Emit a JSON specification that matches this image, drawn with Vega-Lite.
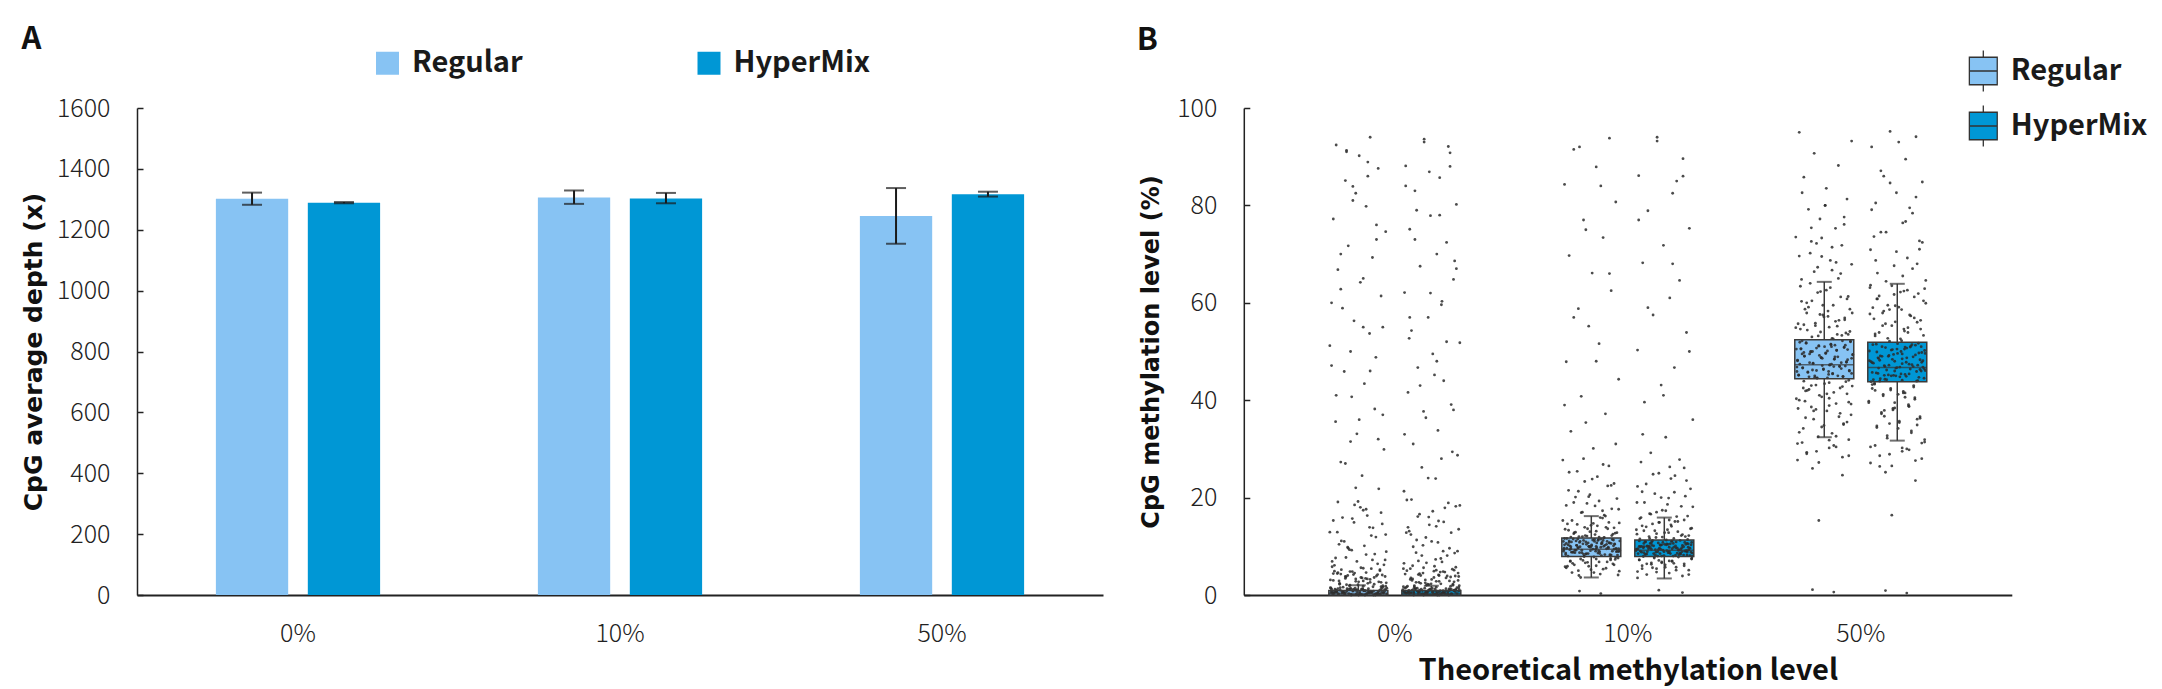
{
"$schema": "https://vega.github.io/schema/vega-lite/v6.json",
"background": "white",
"padding": {"left": 21, "top": 23, "right": 10, "bottom": 5},
"bounds": "flush",
"spacing": 140.8,
"config": {
 "view": {"stroke": null},
 "font": "Noto Sans CJK SC",
 "axis": {"grid": false, "domainColor": "#222", "tickColor": "#222", "labelFont": "Noto Sans CJK SC", "labelFontSize": 25, "labelFontWeight": 300, "labelColor": "#222", "titleColor": "#111"},
 "axisY": {"domainWidth": 1.5, "tickSize": -6, "tickWidth": 1.5, "labelPadding": 33, "titleFont": "DejaVu Sans", "titleFontWeight": "bold", "titleFontSize": 24, "titlePadding": 10, "format": "d"},
 "axisX": {"domainWidth": 2, "ticks": false, "labelPadding": 26, "labelAngle": 0, "titleFont": "Noto Sans CJK SC", "titleFontWeight": "bold", "titleFontSize": 29, "titlePadding": 10},
 "title": {"font": "Noto Sans CJK SC", "fontSize": 31, "fontWeight": "bold", "anchor": "start", "frame": "bounds", "color": "#111", "dy": 11},
 "legend": {"title": null, "labelFont": "Noto Sans CJK SC", "labelFontSize": 29, "labelFontWeight": "bold", "labelColor": "#1a1a1a", "padding": 0}
},
"datasets": {
 "bars": [
  {"t": "0%", "g": "Regular", "mean": 1302, "lo": 1282, "hi": 1322},
  {"t": "0%", "g": "HyperMix", "mean": 1289, "lo": 1287, "hi": 1291},
  {"t": "10%", "g": "Regular", "mean": 1306, "lo": 1285, "hi": 1329},
  {"t": "10%", "g": "HyperMix", "mean": 1303, "lo": 1287, "hi": 1321},
  {"t": "50%", "g": "Regular", "mean": 1245, "lo": 1154, "hi": 1337},
  {"t": "50%", "g": "HyperMix", "mean": 1317, "lo": 1309, "hi": 1325}
 ],
 "boxes": [
  {"t": "0%", "g": "Regular", "lo": 0, "q1": 0, "med": 0.3, "q3": 0.9, "hi": 2.0},
  {"t": "0%", "g": "HyperMix", "lo": 0, "q1": 0, "med": 0.3, "q3": 0.9, "hi": 1.9},
  {"t": "10%", "g": "Regular", "lo": 3.6, "q1": 7.9, "med": 9.4, "q3": 11.7, "hi": 16.2},
  {"t": "10%", "g": "HyperMix", "lo": 3.4, "q1": 7.9, "med": 9.2, "q3": 11.3, "hi": 15.9},
  {"t": "50%", "g": "Regular", "lo": 32.4, "q1": 44.4, "med": 47.3, "q3": 52.4, "hi": 64.3},
  {"t": "50%", "g": "HyperMix", "lo": 31.7, "q1": 43.8, "med": 46.7, "q3": 51.9, "hi": 63.9}
 ],
 "pts": [
  {"t": "0%", "g": "Regular",
   "v": [0.1,0.3,0.5,0.2,0.8,0.4,1.1,0.6,0.0,0.9,1.3,0.2,0.7,0.5,1.0,0.3,1.4,0.6,0.1,0.8,1.2,0.4,0.9,0.0,1.5,0.7,0.3,1.1,0.5,0.2,1.0,0.6,1.3,0.4,0.8,0.1,1.2,0.9,0.5,0.7,2.1,3.4,1.8,4.6,2.7,3.9,1.6,2.4,4.2,3.1,1.9,2.9,4.8,3.6,2.2,1.7,3.3,4.4,2.6,3.8,5.6,7.2,9.8,6.4,12.9,8.3,15.7,5.2,11.1,17.4,6.9,13.8,19.2,8.9,10.4,16.3,7.7,14.6,18.5,6.1,12.2,9.3,21.8,24.5,27.3,29.9,33.1,35.6,38.2,40.7,43.4,45.9,48.8,51.2,53.7,56.3,58.9,61.4,64.2,66.8,69.3,71.7,74.6,77.2,79.8,82.5,85.1,87.6,90.2,92.4,94.0,31.5,37.0,47.1,55.0,62.8,73.0,83.9,88.9,91.3],
   "j": [37,82,5,64,21,93,48,12,76,59,30,88,3,67,44,15,99,52,26,71,9,84,40,61,18,95,33,57,2,79,46,24,90,68,11,55,36,86,7,73,29,62,97,14,50,81,23,66,41,1,92,58,35,77,17,89,45,6,70,27,54,96,31,83,13,63,39,87,20,58,4,75,49,98,16,65,28,91,43,8,72,34,85,56,19,94,47,10,78,38,60,25,80,0,69,42,22,89,53,14,74,32,97,6,63,45,27,84,51,11,70,36,92,3,58,19,81,40,66,29]},
  {"t": "0%", "g": "Regular",
   "v": [0.0,0.1,0.2,0.3,0.4,0.5,0.6,0.7,0.8,0.9,1.0,1.1,1.2,1.3,1.4,0.1,0.2,0.3,0.4,0.5,0.6,0.7,0.8,0.9,1.0,1.1,1.2,1.3,1.4,0.0,0.2,0.4,0.6,0.8,1.0,1.2,1.4,0.1,0.3,0.5,0.7,0.9,1.1,1.3,0.0,0.3,0.6,0.9,1.2,1.5,1.6,1.8,2.0,2.2,2.4,2.6,2.8,3.0,3.2,3.4,3.6,3.8,4.0,4.2,4.4,4.6,4.8,5.0,5.2,5.5,5.8,1.7,2.1,2.5,2.9,3.3,3.7,4.1,4.5,4.9,5.4,1.9,2.7,3.5,4.3,6.2,6.9,7.6,8.4,9.2,10.1,11.0,11.9,12.9,13.9,14.9,15.9,16.9,18.0,19.1,7.2,9.6,12.4,15.3,17.6,22,27,32,36,41,46,50,55,60,65,70,76,81,86,91],
   "j": [37,82,5,64,21,93,48,12,76,59,30,88,3,67,44,15,99,52,26,71,9,84,40,61,18,95,33,57,2,79,46,24,90,68,11,55,36,86,7,73,29,62,97,14,50,81,23,66,41,1,92,58,35,77,17,89,45,6,70,27,54,96,31,83,13,63,39,87,20,58,4,75,49,98,16,65,28,91,43,8,72,34,85,56,19,94,47,10,78,38,60,25,80,0,69,42,22,89,53,14,74,32,97,6,63,45,27,84,51,11,70,36,92,3,58,19,81,40,66,29]},
  {"t": "0%", "g": "HyperMix",
   "v": [93.6,90.8,88.1,85.7,83.0,80.2,77.9,75.1,72.4,70.0,67.5,64.8,62.1,59.6,57.0,54.3,51.8,49.5,46.7,44.0,41.6,39.1,36.4,33.8,31.0,28.7,26.2,23.9,21.3,92.1,86.9,79.0,68.6,60.3,52.7,45.2,37.7,29.4,19.5,17.9,16.6,15.2,13.5,12.4,11.0,9.6,8.7,7.5,6.6,5.4,18.2,14.1,10.2,8.1,6.0,5.1,16.0,12.8,9.0,7.0,4.9,4.5,4.0,3.7,3.2,2.8,2.5,2.0,1.7,1.6,4.3,3.5,2.3,1.9,3.0,4.7,2.6,3.9,2.2,1.8,0.4,0.9,0.1,1.2,0.6,0.3,1.0,0.7,0.2,1.4,0.5,0.8,0.0,1.1,0.3,0.6,1.3,0.9,0.2,0.5,0.8,0.1,1.5,0.4,0.7,1.0,0.2,1.2,0.6,0.3,0.9,0.0,1.1,0.5,0.8,0.4,1.3,0.7,0.2,1.0],
   "j": [37,82,5,64,21,93,48,12,76,59,30,88,3,67,44,15,99,52,26,71,9,84,40,61,18,95,33,57,2,79,46,24,90,68,11,55,36,86,7,73,29,62,97,14,50,81,23,66,41,1,92,58,35,77,17,89,45,6,70,27,54,96,31,83,13,63,39,87,20,58,4,75,49,98,16,65,28,91,43,8,72,34,85,56,19,94,47,10,78,38,60,25,80,0,69,42,22,89,53,14,74,32,97,6,63,45,27,84,51,11,70,36,92,3,58,19,81,40,66,29]},
  {"t": "0%", "g": "HyperMix",
   "v": [93,88,84,78,73,67,62,57,52,48,43,38,33,28,24,19.6,18.4,17.2,16.1,15.0,13.9,12.8,11.8,10.8,9.9,9.0,8.1,7.3,6.5,18.9,14.4,11.3,8.6,6.8,13.1,5.9,5.6,5.3,5.0,4.7,4.4,4.1,3.8,3.5,3.2,2.9,2.6,2.3,2.0,1.7,5.7,5.1,4.5,3.9,3.3,2.7,2.1,1.6,4.8,4.2,3.6,3.0,2.4,1.8,5.4,4.0,3.1,2.2,1.9,2.8,1.4,1.3,1.2,1.1,1.0,0.9,0.8,0.7,0.6,0.5,0.4,0.3,0.2,0.1,0.0,1.5,1.2,0.9,0.6,0.3,0.0,1.4,1.1,0.8,0.5,0.2,1.3,1.0,0.7,0.4,0.1,1.2,0.8,0.4,0.0,1.0,0.6,0.2,1.4,0.9,0.5,0.1,1.1,0.7,0.3,1.3,0.9,0.5,0.2,0.6],
   "j": [37,82,5,64,21,93,48,12,76,59,30,88,3,67,44,15,99,52,26,71,9,84,40,61,18,95,33,57,2,79,46,24,90,68,11,55,36,86,7,73,29,62,97,14,50,81,23,66,41,1,92,58,35,77,17,89,45,6,70,27,54,96,31,83,13,63,39,87,20,58,4,75,49,98,16,65,28,91,43,8,72,34,85,56,19,94,47,10,78,38,60,25,80,0,69,42,22,89,53,14,74,32,97,6,63,45,27,84,51,11,70,36,92,3,58,19,81,40,66,29]},
  {"t": "10%", "g": "Regular",
   "v": [8.0,8.3,8.6,8.9,9.2,9.5,9.8,10.1,10.4,10.7,11.0,11.3,11.6,8.1,8.5,8.8,9.1,9.4,9.7,10.0,10.3,10.6,10.9,11.2,11.5,8.2,8.7,9.0,9.3,9.6,9.9,10.2,10.5,10.8,11.1,11.4,8.4,9.0,9.6,10.2,10.8,11.4,8.9,9.5,10.1,10.7,9.2,9.8,10.4,11.0,7.7,7.4,7.1,6.8,6.5,6.2,5.9,5.6,5.3,5.0,4.6,4.1,3.6,7.5,6.9,11.9,12.2,12.5,12.8,13.1,13.5,13.9,14.3,14.8,15.3,15.9,12.0,12.7,13.6,14.6,16.4,17.0,17.7,18.3,19.0,19.8,20.6,21.5,22.4,23.3,24.3,25.4,26.5,27.7,17.3,18.8,20.1,22.9,30.1,33.6,37.2,40.8,44.3,47.9,51.6,55.2,58.8,62.5,66.1,69.7,73.4,77.0,80.7,84.3,87.9,91.5,93.8,35.4,0.3,0.8],
   "j": [37,82,5,64,21,93,48,12,76,59,30,88,3,67,44,15,99,52,26,71,9,84,40,61,18,95,33,57,2,79,46,24,90,68,11,55,36,86,7,73,29,62,97,14,50,81,23,66,41,1,92,58,35,77,17,89,45,6,70,27,54,96,31,83,13,63,39,87,20,58,4,75,49,98,16,65,28,91,43,8,72,34,85,56,19,94,47,10,78,38,60,25,80,0,69,42,22,89,53,14,74,32,97,6,63,45,27,84,51,11,70,36,92,3,58,19,81,40,66,29]},
  {"t": "10%", "g": "Regular",
   "v": [7.9,8.1,8.3,8.5,8.7,8.9,9.1,9.3,9.5,9.7,9.9,10.1,10.3,10.5,10.7,10.9,11.1,11.3,11.5,11.7,8.0,8.2,8.4,8.6,8.8,9.0,9.2,9.4,9.6,9.8,10.0,10.2,10.4,10.6,10.8,11.0,11.2,11.4,11.6,8.3,8.7,9.1,9.5,9.9,10.3,10.7,11.1,11.5,8.5,9.0,9.5,10.0,10.5,11.0,8.8,9.4,10.0,10.6,11.2,9.7,7.8,7.6,7.4,7.2,7.0,6.8,6.6,6.4,6.2,6.0,5.8,5.5,5.2,4.9,4.6,4.3,4.0,7.3,6.7,5.9,11.8,12.0,12.2,12.4,12.6,12.8,13.0,13.3,13.6,13.9,14.2,14.5,14.9,15.3,15.8,12.1,12.9,13.8,14.7,11.9,16.2,16.9,17.6,18.4,19.3,20.2,21.3,22.5,23.8,25.2,26.8,28.0,31,39,48,57,66,75,84,92],
   "j": [37,82,5,64,21,93,48,12,76,59,30,88,3,67,44,15,99,52,26,71,9,84,40,61,18,95,33,57,2,79,46,24,90,68,11,55,36,86,7,73,29,62,97,14,50,81,23,66,41,1,92,58,35,77,17,89,45,6,70,27,54,96,31,83,13,63,39,87,20,58,4,75,49,98,16,65,28,91,43,8,72,34,85,56,19,94,47,10,78,38,60,25,80,0,69,42,22,89,53,14,74,32,97,6,63,45,27,84,51,11,70,36,92,3,58,19,81,40,66,29]},
  {"t": "10%", "g": "HyperMix",
   "v": [93.2,89.6,86.1,82.5,78.9,75.3,71.8,68.2,64.6,61.0,57.5,53.9,50.3,46.7,43.1,39.6,36.0,32.4,29.2,85.0,27.3,26.1,25.0,23.9,22.8,21.8,20.8,19.9,19.0,18.2,17.4,16.7,16.2,24.5,21.2,18.6,17.0,20.3,15.7,15.1,14.6,14.1,13.7,13.2,12.8,12.4,12.0,11.6,14.9,13.4,12.2,15.4,11.8,11.2,10.9,10.6,10.3,10.0,9.7,9.4,9.1,8.8,8.5,8.2,7.9,11.1,10.7,10.4,10.1,9.8,9.5,9.2,8.9,8.6,8.3,8.0,11.0,10.5,10.2,9.9,9.6,9.3,9.0,8.7,8.4,8.1,10.8,10.0,9.4,8.9,8.5,10.6,9.7,9.1,8.2,10.3,9.5,8.8,11.3,9.9,9.2,7.8,7.5,7.2,6.9,6.6,6.3,6.0,5.7,5.4,5.1,4.7,4.2,3.5,7.0,6.4,0.5,1.0],
   "j": [37,82,5,64,21,93,48,12,76,59,30,88,3,67,44,15,99,52,26,71,9,84,40,61,18,95,33,57,2,79,46,24,90,68,11,55,36,86,7,73,29,62,97,14,50,81,23,66,41,1,92,58,35,77,17,89,45,6,70,27,54,96,31,83,13,63,39,87,20,58,4,75,49,98,16,65,28,91,43,8,72,34,85,56,19,94,47,10,78,38,60,25,80,0,69,42,22,89,53,14,74,32,97,6,63,45,27,84,51,11,70,36,92,3,58,19,81,40,66,29]},
  {"t": "10%", "g": "HyperMix",
   "v": [94,86,77,68,59,50,41,33,27.8,26.3,24.8,23.5,22.3,21.1,20.0,19.0,18.1,17.3,16.6,16.1,15.9,15.4,14.9,14.4,14.0,13.6,13.2,12.8,12.5,12.2,11.9,11.6,11.4,15.1,14.2,13.4,12.6,12.0,11.5,13.0,11.2,11.0,10.8,10.6,10.4,10.2,10.0,9.8,9.6,9.4,9.2,9.0,8.8,8.6,8.4,8.2,8.0,11.1,10.9,10.7,10.5,10.3,10.1,9.9,9.7,9.5,9.3,9.1,8.9,8.7,8.5,8.3,8.1,7.9,11.0,10.6,10.2,9.8,9.4,9.0,8.6,8.2,10.8,10.4,10.0,9.6,9.2,8.8,8.4,8.0,10.5,9.7,8.9,9.3,10.1,8.5,9.9,9.1,10.3,8.7,7.8,7.6,7.4,7.2,7.0,6.8,6.6,6.4,6.2,6.0,5.7,5.4,5.1,4.8,4.5,4.2,3.9,7.1,6.5,5.6],
   "j": [37,82,5,64,21,93,48,12,76,59,30,88,3,67,44,15,99,52,26,71,9,84,40,61,18,95,33,57,2,79,46,24,90,68,11,55,36,86,7,73,29,62,97,14,50,81,23,66,41,1,92,58,35,77,17,89,45,6,70,27,54,96,31,83,13,63,39,87,20,58,4,75,49,98,16,65,28,91,43,8,72,34,85,56,19,94,47,10,78,38,60,25,80,0,69,42,22,89,53,14,74,32,97,6,63,45,27,84,51,11,70,36,92,3,58,19,81,40,66,29]},
  {"t": "50%", "g": "Regular",
   "v": [44.5,44.8,45.1,45.4,45.7,46.0,46.3,46.6,46.9,47.2,47.5,47.8,48.1,48.4,48.7,49.0,49.3,49.6,49.9,50.2,50.5,50.8,51.1,51.4,51.7,52.0,45.0,45.9,46.8,47.7,48.6,49.5,50.4,51.3,52.2,44.6,46.1,47.0,47.4,48.9,50.0,51.0,45.5,43.9,43.4,42.8,42.2,41.6,41.0,40.3,39.6,38.9,38.1,37.3,36.4,35.5,34.5,33.4,32.6,43.0,41.3,39.2,37.8,35.0,42.5,52.7,53.2,53.8,54.4,55.0,55.7,56.4,57.1,57.9,58.7,59.5,60.4,61.3,62.3,63.4,53.5,55.3,56.9,58.3,60.0,54.1,57.5,64.8,66.0,67.3,68.7,70.2,71.8,73.5,75.3,77.2,79.2,81.3,83.5,85.8,88.2,90.7,93.2,95.0,66.7,69.5,72.6,76.1,80.0,31.3,30.4,29.5,28.6,27.7,31.8,29.0,24.6,15.3,0.6,1.1],
   "j": [37,82,5,64,21,93,48,12,76,59,30,88,3,67,44,15,99,52,26,71,9,84,40,61,18,95,33,57,2,79,46,24,90,68,11,55,36,86,7,73,29,62,97,14,50,81,23,66,41,1,92,58,35,77,17,89,45,6,70,27,54,96,31,83,13,63,39,87,20,58,4,75,49,98,16,65,28,91,43,8,72,34,85,56,19,94,47,10,78,38,60,25,80,0,69,42,22,89,53,14,74,32,97,6,63,45,27,84,51,11,70,36,92,3,58,19,81,40,66,29]},
  {"t": "50%", "g": "Regular",
   "v": [44.6,44.9,45.2,45.5,45.8,46.1,46.4,46.7,47.0,47.3,47.6,47.9,48.2,48.5,48.8,49.1,49.4,49.7,50.0,50.3,50.6,50.9,51.2,51.5,51.8,52.1,44.7,45.3,45.9,46.5,47.1,47.7,48.3,48.9,49.5,50.1,50.7,51.3,51.9,45.0,46.2,47.4,48.6,49.8,51.0,52.2,44.8,46.9,49.2,50.5,44.1,43.6,43.1,42.5,41.9,41.3,40.7,40.0,39.3,38.6,37.8,37.0,36.1,35.2,34.2,33.2,32.5,43.8,42.0,40.4,38.3,36.6,34.8,42.9,39.8,52.6,53.0,53.5,54.0,54.6,55.2,55.8,56.5,57.2,57.9,58.7,59.5,60.3,61.2,62.1,63.1,64.0,53.3,54.9,56.2,57.6,59.1,60.8,62.6,55.5,65.0,66.4,67.9,69.6,71.4,73.3,75.4,77.6,80.0,82.6,68.3,72.2,31.9,31.1,30.2,29.3,28.3,27.2,30.7,26.0],
   "j": [37,82,5,64,21,93,48,12,76,59,30,88,3,67,44,15,99,52,26,71,9,84,40,61,18,95,33,57,2,79,46,24,90,68,11,55,36,86,7,73,29,62,97,14,50,81,23,66,41,1,92,58,35,77,17,89,45,6,70,27,54,96,31,83,13,63,39,87,20,58,4,75,49,98,16,65,28,91,43,8,72,34,85,56,19,94,47,10,78,38,60,25,80,0,69,42,22,89,53,14,74,32,97,6,63,45,27,84,51,11,70,36,92,3,58,19,81,40,66,29]},
  {"t": "50%", "g": "HyperMix",
   "v": [95.2,94.1,92.0,89.5,87.1,84.8,82.6,80.5,78.4,76.4,74.5,72.7,70.9,69.2,67.6,66.1,64.6,93.0,86.0,79.5,73.6,68.0,63.5,62.4,61.4,60.4,59.5,58.6,57.7,56.9,56.1,55.3,54.6,53.9,53.2,52.6,52.1,61.9,59.0,57.3,55.7,54.2,62.9,60.8,51.6,51.3,51.0,50.7,50.4,50.1,49.8,49.5,49.2,48.9,48.6,48.3,48.0,47.7,47.4,47.1,46.8,46.5,46.2,45.9,45.6,45.3,45.0,44.7,44.4,44.1,43.8,51.4,50.5,49.6,48.7,47.8,46.9,46.0,45.1,44.2,50.9,49.0,47.2,45.4,43.9,48.1,46.6,43.3,42.7,42.1,41.5,40.9,40.2,39.5,38.8,38.0,37.2,36.3,35.4,34.4,33.3,32.2,31.4,42.4,40.6,38.4,36.7,34.9,41.2,30.7,29.8,28.9,28.0,27.1,30.2,26.4,23.5,16.4,0.4,0.9],
   "j": [37,82,5,64,21,93,48,12,76,59,30,88,3,67,44,15,99,52,26,71,9,84,40,61,18,95,33,57,2,79,46,24,90,68,11,55,36,86,7,73,29,62,97,14,50,81,23,66,41,1,92,58,35,77,17,89,45,6,70,27,54,96,31,83,13,63,39,87,20,58,4,75,49,98,16,65,28,91,43,8,72,34,85,56,19,94,47,10,78,38,60,25,80,0,69,42,22,89,53,14,74,32,97,6,63,45,27,84,51,11,70,36,92,3,58,19,81,40,66,29]},
  {"t": "50%", "g": "HyperMix",
   "v": [84.6,81.7,79.1,76.7,74.5,72.4,70.5,68.7,67.0,65.5,64.4,71.0,63.6,62.6,61.7,60.8,59.9,59.1,58.3,57.5,56.7,56.0,55.3,54.6,53.9,53.3,52.7,52.2,63.1,61.2,59.4,57.9,56.4,54.9,53.6,62.2,58.6,51.7,51.4,51.1,50.8,50.5,50.2,49.9,49.6,49.3,49.0,48.7,48.4,48.1,47.8,47.5,47.2,46.9,46.6,46.3,46.0,45.7,45.4,45.1,44.8,44.5,44.2,43.9,51.5,50.9,50.3,49.7,49.1,48.5,47.9,47.3,46.7,46.1,45.5,44.9,44.3,51.0,49.4,47.6,46.4,45.2,44.0,50.0,48.2,46.8,45.0,43.5,43.0,42.4,41.8,41.2,40.5,39.8,39.1,38.3,37.5,36.6,35.7,34.7,33.7,32.7,31.9,43.2,41.5,39.5,37.9,36.1,34.2,42.0,38.7,35.2,31.2,30.4,29.5,28.6,27.6,26.5,30.0,25.2],
   "j": [37,82,5,64,21,93,48,12,76,59,30,88,3,67,44,15,99,52,26,71,9,84,40,61,18,95,33,57,2,79,46,24,90,68,11,55,36,86,7,73,29,62,97,14,50,81,23,66,41,1,92,58,35,77,17,89,45,6,70,27,54,96,31,83,13,63,39,87,20,58,4,75,49,98,16,65,28,91,43,8,72,34,85,56,19,94,47,10,78,38,60,25,80,0,69,42,22,89,53,14,74,32,97,6,63,45,27,84,51,11,70,36,92,3,58,19,81,40,66,29]}
 ]
},
"resolve": {"scale": {"color": "independent", "x": "independent", "y": "independent", "xOffset": "independent"}, "legend": {"color": "independent"}},
"hconcat": [
 {
  "width": 966, "height": 487,
  "title": {"text": "A"},
  "data": {"name": "bars"},
  "layer": [
   {"mark": {"type": "bar"},
    "encoding": {
     "x": {"field": "t", "type": "nominal", "sort": ["0%", "10%", "50%"], "scale": {"paddingInner": 0.49, "paddingOuter": 0.245}, "axis": {"title": null}},
     "xOffset": {"field": "g", "type": "nominal", "sort": ["Regular", "HyperMix"], "scale": {"paddingInner": 0.2135, "paddingOuter": 0}},
     "y": {"field": "mean", "type": "quantitative", "title": "CpG average depth (x)", "scale": {"domain": [0, 1600]}, "axis": {"values": [0, 200, 400, 600, 800, 1000, 1200, 1400, 1600], "titleFontSize": 25}},
     "color": {"field": "g", "type": "nominal", "scale": {"domain": ["Regular", "HyperMix"], "range": ["#87C3F3", "#0097D5"]},
      "legend": {"orient": "none", "legendX": 236, "legendY": -59.5, "direction": "horizontal", "symbolType": "square", "symbolSize": 529, "symbolStrokeWidth": 0, "symbolOpacity": 1, "labelOffset": 10, "columnPadding": 171.5}}
    }},
   {"mark": {"type": "rule", "color": "#1a1a1a", "strokeWidth": 2},
    "encoding": {
     "x": {"field": "t", "type": "nominal", "sort": ["0%", "10%", "50%"]},
     "xOffset": {"field": "g", "type": "nominal", "sort": ["Regular", "HyperMix"]},
     "y": {"field": "lo", "type": "quantitative", "title": "CpG average depth (x)"},
     "y2": {"field": "hi"}
    }},
   {"mark": {"type": "tick", "color": "#1a1a1a", "thickness": 2, "size": 20},
    "encoding": {
     "x": {"field": "t", "type": "nominal", "sort": ["0%", "10%", "50%"]},
     "xOffset": {"field": "g", "type": "nominal", "sort": ["Regular", "HyperMix"]},
     "y": {"field": "lo", "type": "quantitative", "title": "CpG average depth (x)"}
    }},
   {"mark": {"type": "tick", "color": "#1a1a1a", "thickness": 2, "size": 20},
    "encoding": {
     "x": {"field": "t", "type": "nominal", "sort": ["0%", "10%", "50%"]},
     "xOffset": {"field": "g", "type": "nominal", "sort": ["Regular", "HyperMix"]},
     "y": {"field": "hi", "type": "quantitative", "title": "CpG average depth (x)"}
    }}
  ]
 },
 {
  "width": 768, "height": 487,
  "title": {"text": "B", "dx": -3},
  "resolve": {"scale": {"xOffset": "independent"}},
  "layer": [
   {"data": {"name": "boxes"},
    "mark": {"type": "bar"},
    "encoding": {
     "x": {"field": "t", "type": "nominal", "sort": ["0%", "10%", "50%"], "title": "Theoretical methylation level", "scale": {"paddingInner": 0.4335, "paddingOuter": 0.365}},
     "xOffset": {"field": "g", "type": "nominal", "sort": ["Regular", "HyperMix"], "scale": {"paddingInner": 0.192, "paddingOuter": 0}},
     "y": {"field": "q1", "type": "quantitative", "title": "CpG methylation level (%)", "scale": {"domain": [0, 100]}, "axis": {"values": [0, 20, 40, 60, 80, 100], "titlePadding": 13}},
     "y2": {"field": "q3"},
     "color": {"field": "g", "type": "nominal", "scale": {"domain": ["Regular", "HyperMix"], "range": ["#87C3F3", "#0097D5"]},
      "legend": {"orient": "none", "legendX": 718, "legendY": -58.5, "direction": "vertical", "symbolType": "M-0.68,-0.67H0.68V0.67H-0.68Z M0,-1V-0.67 M0,0.67V1 M-0.68,0H0.68", "symbolSize": 1681, "symbolStrokeColor": "#333", "symbolStrokeWidth": 1.3, "symbolOpacity": 1, "labelOffset": 6, "rowPadding": 8}}
    }},
   {"data": {"name": "pts"},
    "transform": [{"flatten": ["v", "j"]}, {"filter": {"field": "g", "equal": "Regular"}}],
    "mark": {"type": "circle", "size": 8, "color": "#2b2b2b", "opacity": 0.85},
    "encoding": {
     "x": {"field": "t", "type": "nominal", "sort": ["0%", "10%", "50%"], "title": "Theoretical methylation level"},
     "xOffset": {"field": "j", "type": "quantitative", "scale": {"domain": [0, 99], "range": [1, 58]}},
     "y": {"field": "v", "type": "quantitative", "title": "CpG methylation level (%)"}
    }},
   {"data": {"name": "pts"},
    "transform": [{"flatten": ["v", "j"]}, {"filter": {"field": "g", "equal": "HyperMix"}}],
    "mark": {"type": "circle", "size": 8, "color": "#2b2b2b", "opacity": 0.85},
    "encoding": {
     "x": {"field": "t", "type": "nominal", "sort": ["0%", "10%", "50%"], "title": "Theoretical methylation level"},
     "xOffset": {"field": "j", "type": "quantitative", "scale": {"domain": [0, 99], "range": [74, 131]}},
     "y": {"field": "v", "type": "quantitative", "title": "CpG methylation level (%)"}
    }},
   {"data": {"name": "boxes"},
    "mark": {"type": "rule", "color": "#3a3a3a", "strokeWidth": 1.5},
    "encoding": {
     "x": {"field": "t", "type": "nominal", "sort": ["0%", "10%", "50%"], "title": "Theoretical methylation level"},
     "xOffset": {"field": "g", "type": "nominal", "sort": ["Regular", "HyperMix"], "scale": {"paddingInner": 0.192, "paddingOuter": 0}},
     "y": {"field": "lo", "type": "quantitative", "title": "CpG methylation level (%)"},
     "y2": {"field": "q1"}
    }},
   {"data": {"name": "boxes"},
    "mark": {"type": "rule", "color": "#3a3a3a", "strokeWidth": 1.5},
    "encoding": {
     "x": {"field": "t", "type": "nominal", "sort": ["0%", "10%", "50%"], "title": "Theoretical methylation level"},
     "xOffset": {"field": "g", "type": "nominal", "sort": ["Regular", "HyperMix"], "scale": {"paddingInner": 0.192, "paddingOuter": 0}},
     "y": {"field": "q3", "type": "quantitative", "title": "CpG methylation level (%)"},
     "y2": {"field": "hi"}
    }},
   {"data": {"name": "boxes"},
    "mark": {"type": "bar", "filled": false, "stroke": "#3a3a3a", "strokeWidth": 1.5},
    "encoding": {
     "x": {"field": "t", "type": "nominal", "sort": ["0%", "10%", "50%"], "title": "Theoretical methylation level"},
     "xOffset": {"field": "g", "type": "nominal", "sort": ["Regular", "HyperMix"], "scale": {"paddingInner": 0.192, "paddingOuter": 0}},
     "y": {"field": "q1", "type": "quantitative", "title": "CpG methylation level (%)"},
     "y2": {"field": "q3"}
    }},
   {"data": {"name": "boxes"},
    "mark": {"type": "tick", "color": "#333", "thickness": 1.5, "size": 59},
    "encoding": {
     "x": {"field": "t", "type": "nominal", "sort": ["0%", "10%", "50%"], "title": "Theoretical methylation level"},
     "xOffset": {"field": "g", "type": "nominal", "sort": ["Regular", "HyperMix"], "scale": {"paddingInner": 0.192, "paddingOuter": 0}},
     "y": {"field": "med", "type": "quantitative", "title": "CpG methylation level (%)"}
    }},
   {"data": {"name": "boxes"},
    "mark": {"type": "tick", "color": "#333", "thickness": 2, "size": 15},
    "encoding": {
     "x": {"field": "t", "type": "nominal", "sort": ["0%", "10%", "50%"], "title": "Theoretical methylation level"},
     "xOffset": {"field": "g", "type": "nominal", "sort": ["Regular", "HyperMix"], "scale": {"paddingInner": 0.192, "paddingOuter": 0}},
     "y": {"field": "lo", "type": "quantitative", "title": "CpG methylation level (%)"}
    }},
   {"data": {"name": "boxes"},
    "mark": {"type": "tick", "color": "#333", "thickness": 2, "size": 15},
    "encoding": {
     "x": {"field": "t", "type": "nominal", "sort": ["0%", "10%", "50%"], "title": "Theoretical methylation level"},
     "xOffset": {"field": "g", "type": "nominal", "sort": ["Regular", "HyperMix"], "scale": {"paddingInner": 0.192, "paddingOuter": 0}},
     "y": {"field": "hi", "type": "quantitative", "title": "CpG methylation level (%)"}
    }}
  ]
 }
]
}
